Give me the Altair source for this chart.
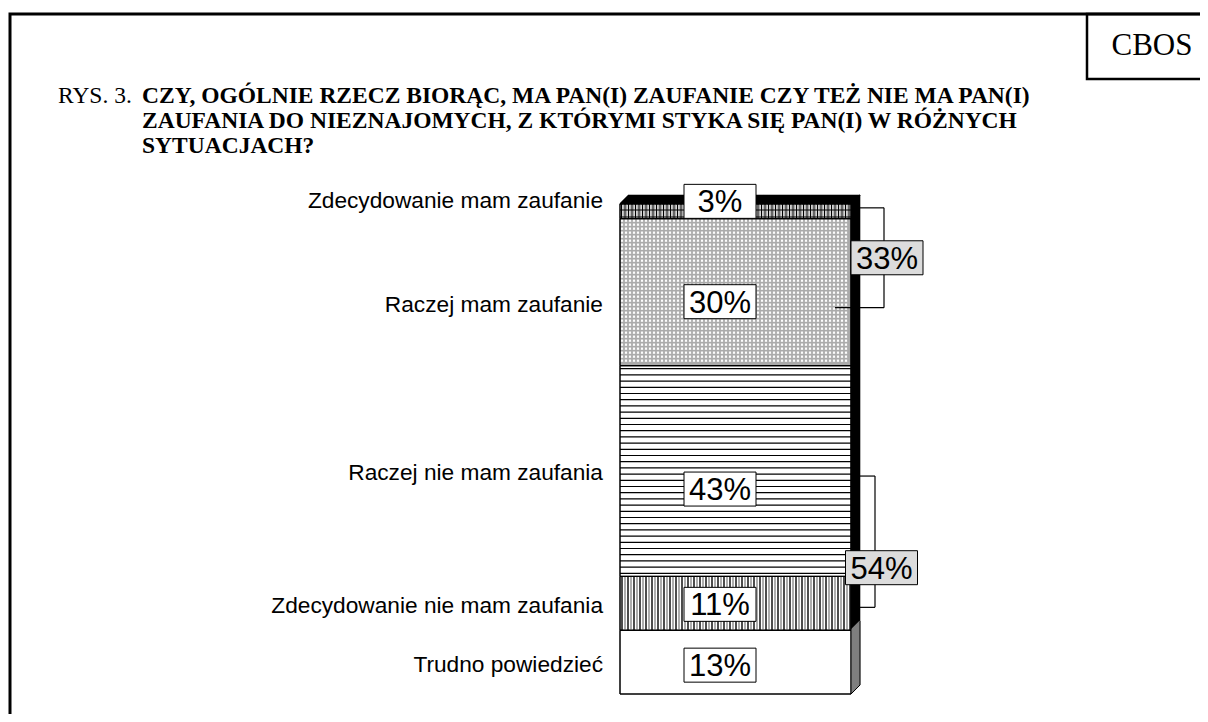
import altair as alt
import numpy as np
import pandas as pd

# ---------------- data ----------------
categories = [
    "Zdecydowanie mam zaufanie",
    "Raczej mam zaufanie",
    "Raczej nie mam zaufania",
    "Zdecydowanie nie mam zaufania",
    "Trudno powiedzieć",
]
values = [3, 30, 43, 11, 13]
value_labels = ["3%", "30%", "43%", "11%", "13%"]
group_labels = ["33%", "54%"]
group_first = [0, 2]
group_last = [1, 3]
title_lines = [
    "CZY, OGÓLNIE RZECZ BIORĄC, MA PAN(I) ZAUFANIE CZY TEŻ NIE MA PAN(I)",
    "ZAUFANIA DO NIEZNAJOMYCH, Z KTÓRYMI STYKA SIĘ PAN(I) W RÓŻNYCH",
    "SYTUACJACH?",
]
figure_label = "RYS. 3."
source_label = "CBOS"

# ---------------- layout (pixels, view coordinates) ----------------
W, H = 1192, 706
Y0, Y1 = 196, 686          # bar top / bottom
X0, X1 = 612, 843          # bar left / right
PXY = (Y1 - Y0) / 100.0    # px per percent
PXX = float(X1 - X0)       # px per x-unit
DEPTH = 9
DX = DEPTH / PXX
DY = DEPTH / PXY

seg_fill = ["#ffffff", "#ababab", "#ffffff", "#ffffff", "#ffffff"]
label_dy = [-3.5, 19.5, 8.5, 10, 9.5]
box_dy = [-10, 9.5, 18, 1, 3]
BOX_X = (712 - X0) / PXX
BOX_W, BOX_H = 72, 34
SERIF = "Liberation Serif, Times New Roman, serif"
SANS = "Liberation Sans, Arial, sans-serif"

xs = alt.Scale(domain=[0, 1], range=[X0, X1], nice=False, zero=False)
ys = alt.Scale(domain=[0, 100], range=[Y0, Y1], nice=False, zero=False)

ends = np.cumsum(values).astype(float)
starts = ends - np.array(values, dtype=float)
mids = (starts + ends) / 2

seg = pd.DataFrame({
    "cat": categories, "lab": value_labels,
    "y0": starts, "y1": ends, "mid": mids,
    "fill": seg_fill, "x0": 0.0, "x1": 1.0,
})
seg["label_y"] = seg["mid"] + np.array(label_dy) / PXY
seg["box_y"] = seg["mid"] + np.array(box_dy) / PXY
seg["box_x"] = BOX_X
seg["bg"] = "#ffffff"

# ---- hatch lines (patterns) ----
hatch = []
def rule(x, x2, y, y2, c, w):
    hatch.append(dict(x=x, x2=x2, y=y, y2=y2, c=c, w=w))
def vlines(i, step, off, color, w):
    p = off
    while p <= PXX - 0.5:
        rule(p / PXX, p / PXX, starts[i], ends[i], color, w)
        p += step
def hlines(i, step, off, color, w):
    p = off
    h = (ends[i] - starts[i]) * PXY
    while p <= h - 0.5:
        yy = starts[i] + p / PXY
        rule(0.0, 1.0, yy, yy, color, w)
        p += step
vlines(0, 3.5, 1.5, "#000000", 1.2)
vlines(0, 3.5, 3.2, "#9a9a9a", 1.0)
hlines(0, 7.0, 6.0, "#000000", 1.0)
vlines(3, 6.0, 2.0, "#000000", 1.4)
vlines(3, 6.0, 5.0, "#8a8a8a", 1.4)
hlines(2, 6.2, 3.0, "#000000", 1.2)

# 3-D top face (diagonal strokes fill a parallelogram)
p = 0.0
while p <= PXX:
    rule(p / PXX, p / PXX + DX, 0.0, -DY, "#000000", 1.6)
    p += 1.0
# 3-D side faces
def side_part(ya, yb, color):
    q = ya * PXY
    while q <= yb * PXY:
        rule(1.0, 1.0 + DX, q / PXY, q / PXY - DY, color, 1.6)
        q += 1.0
side_part(starts[0], ends[3], "#000000")
side_part(starts[4], ends[4], "#7f7f7f")
rule(1.0 + DX, 1.0 + DX, starts[4] - DY, ends[4] - DY, "#000000", 1.0)
rule(1.0, 1.0 + DX, ends[4], ends[4] - DY, "#000000", 1.0)
hatch = pd.DataFrame(hatch)

# 30% cross-hatch texture (white crosses on grey)
tex = []
gx = 2.0
while gx < PXX - 1:
    gy = 2.0
    while gy < (ends[1] - starts[1]) * PXY - 1:
        tex.append(dict(x=gx / PXX, y=starts[1] + gy / PXY))
        gy += 4.0
    gx += 4.0
tex = pd.DataFrame(tex)

# brackets
xb_up = (884 - 620) / PXX
xb_lo = (875 - 620) / PXX
x_in = (835 - 620) / PXX
yt_up = mids[group_first[0]] - 3.5 / PXY
yb_up = mids[group_last[0]] + 15.5 / PXY
yt_lo = mids[group_first[1]] + 5 / PXY
yb_lo = mids[group_last[1]] + 4 / PXY
br = pd.DataFrame([
    dict(x=1 + DX, x2=xb_up, y=yt_up, y2=yt_up),
    dict(x=xb_up, x2=xb_up, y=yt_up, y2=yb_up),
    dict(x=x_in, x2=xb_up, y=yb_up, y2=yb_up),
    dict(x=1 + DX, x2=xb_lo, y=yt_lo, y2=yt_lo),
    dict(x=xb_lo, x2=xb_lo, y=yt_lo, y2=yb_lo),
    dict(x=1 + DX, x2=xb_lo, y=yb_lo, y2=yb_lo),
])
grp = pd.DataFrame({
    "lab": group_labels,
    "box_x": [(887 - 620) / PXX, (881.5 - 620) / PXX],
    "box_y": [(yt_up + yb_up) / 2, (yt_lo + yb_lo) / 2 + 26 / PXY],
    "bg": ["#dcdcdc", "#dcdcdc"],
})

one = pd.DataFrame({"a": [0]})

# ---------------- layers ----------------
frame = alt.Chart(one).mark_rect(fillOpacity=0, stroke="black", strokeWidth=3).encode(
    x=alt.value(2), x2=alt.value(1400), y=alt.value(6), y2=alt.value(1000))
cbos_box = alt.Chart(one).mark_rect(fillOpacity=0, stroke="black", strokeWidth=2.5).encode(
    x=alt.value(1079), x2=alt.value(1400), y=alt.value(6), y2=alt.value(71))
cbos_txt = alt.Chart(pd.DataFrame({"t": [source_label]})).mark_text(
    font=SERIF, fontSize=31, align="center", baseline="alphabetic"
).encode(x=alt.value(1144), y=alt.value(47), text="t:N")
fig_txt = alt.Chart(pd.DataFrame({"t": [figure_label]})).mark_text(
    font=SERIF, fontSize=23.5, align="left", baseline="alphabetic"
).encode(x=alt.value(50), y=alt.value(95), text="t:N")
title_layers = [
    alt.Chart(pd.DataFrame({"t": [line]})).mark_text(
        font=SERIF, fontSize=23.5, fontWeight="bold", align="left", baseline="alphabetic"
    ).encode(x=alt.value(134), y=alt.value(95 + 25 * i), text="t:N")
    for i, line in enumerate(title_lines)
]

faces = alt.Chart(seg).mark_rect(stroke="black", strokeWidth=1).encode(
    x=alt.X("x0:Q", scale=xs, axis=None), x2="x1:Q",
    y=alt.Y("y0:Q", scale=ys, axis=None), y2="y1:Q",
    fill=alt.Fill("fill:N", scale=None))
tex_l = alt.Chart(tex).mark_point(shape="cross", angle=45, size=8, filled=True,
                                  color="white", opacity=1).encode(
    x=alt.X("x:Q", scale=xs, axis=None),
    y=alt.Y("y:Q", scale=ys, axis=None))
hatch_l = alt.Chart(hatch).mark_rule().encode(
    x=alt.X("x:Q", scale=xs, axis=None), x2="x2:Q",
    y=alt.Y("y:Q", scale=ys, axis=None), y2="y2:Q",
    color=alt.Color("c:N", scale=None),
    strokeWidth=alt.StrokeWidth("w:Q", scale=None))
outline = alt.Chart(seg).mark_rect(fillOpacity=0, stroke="black", strokeWidth=1).encode(
    x=alt.X("x0:Q", scale=xs, axis=None), x2="x1:Q",
    y=alt.Y("y0:Q", scale=ys, axis=None), y2="y1:Q")
br_l = alt.Chart(br).mark_rule(color="black", strokeWidth=1.2).encode(
    x=alt.X("x:Q", scale=xs, axis=None), x2="x2:Q",
    y=alt.Y("y:Q", scale=ys, axis=None), y2="y2:Q")

RECT = "M-1,-%.4fL1,-%.4fL1,%.4fL-1,%.4fZ" % ((BOX_H / BOX_W,) * 4)

def boxes(df):
    b = alt.Chart(df).mark_point(shape=RECT, size=BOX_W ** 2, filled=True, opacity=1,
                                 stroke="black", strokeWidth=1).encode(
        x=alt.X("box_x:Q", scale=xs, axis=None),
        y=alt.Y("box_y:Q", scale=ys, axis=None),
        fill=alt.Fill("bg:N", scale=None))
    t = alt.Chart(df).mark_text(font=SANS, fontSize=31, baseline="middle", dy=2).encode(
        x=alt.X("box_x:Q", scale=xs, axis=None),
        y=alt.Y("box_y:Q", scale=ys, axis=None),
        text="lab:N")
    return [b, t]

cat_l = alt.Chart(seg).mark_text(font=SANS, fontSize=22.7, align="right",
                                 baseline="alphabetic", dx=-17).encode(
    x=alt.X("x0:Q", scale=xs, axis=None),
    y=alt.Y("label_y:Q", scale=ys, axis=None),
    text="cat:N")

chart = alt.layer(
    frame, cbos_box, cbos_txt, fig_txt, *title_layers,
    faces, tex_l, hatch_l, outline, br_l,
    *boxes(seg), *boxes(grp), cat_l,
).properties(width=W, height=H, padding=0, autosize="none").configure_view(stroke=None)

chart.save("out.html", embed_options={"renderer": "svg", "actions": False})
